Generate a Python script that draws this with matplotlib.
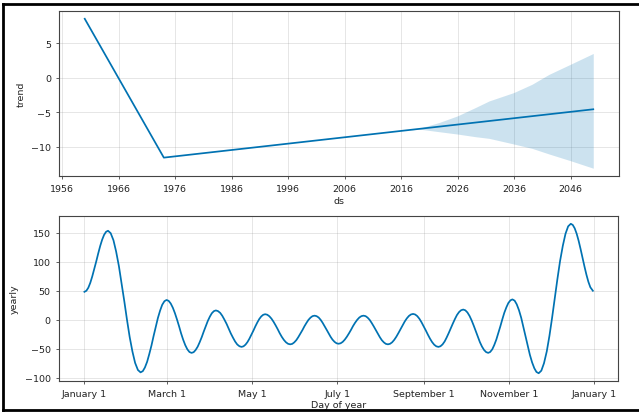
import pandas as pd
import matplotlib
matplotlib.use("Agg")
import matplotlib.pyplot as plt
from matplotlib.dates import MonthLocator, num2date
from matplotlib.ticker import FuncFormatter
from matplotlib.lines import Line2D

# Trend component (piecewise linear with one changepoint)
trend_dates = ["1960-01-01", "1974-01-01", "2050-01-01"]
trend_values = [8.5, -11.55, -4.57]

# Forecast uncertainty of the trend
band_dates = ["2017-06-01", "2019-03-01", "2022-10-01", "2026-01-01", "2029-03-01",
              "2031-08-01", "2035-12-01", "2039-03-01", "2042-03-01", "2045-12-01",
              "2050-01-01"]
band_upper = [-7.57, -7.33, -6.47, -5.51, -4.31, -3.36, -2.16, -0.96, 0.47, 1.91, 3.49]
band_lower = [-7.57, -7.43, -7.81, -8.15, -8.53, -8.77, -9.58, -10.21, -11.02, -11.98, -13.08]

year_ticks = [1956, 1966, 1976, 1986, 1996, 2006, 2016, 2026, 2036, 2046]

# Yearly seasonality: day offset from January 1 and component value
yearly_day = [
    0, 1.4, 2.8, 4.2, 5.6, 7.0, 8.5, 9.9, 11.3, 12.7, 14.1, 15.5, 16.9,
    18.8, 20.8, 22.7, 24.7, 26.6, 28.6, 30.5, 32.4, 34.4, 36.3, 38.3, 40.2,
    41.8, 43.3, 44.9, 46.4, 48.0, 49.5, 51.1, 52.6, 54.2, 55.7, 57.3, 58.8,
    60.3, 61.8, 63.3, 64.8, 66.3, 67.8, 69.2, 70.7, 72.2, 73.7, 75.2, 76.7,
    78.2, 79.6, 81.1, 82.5, 84.0, 85.4, 86.9, 88.3, 89.8, 91.2, 92.7, 94.1,
    95.6, 97.2, 98.7, 100.2, 101.8, 103.3, 104.8, 106.4, 107.9, 109.4, 111.0, 112.5,
    113.9, 115.3, 116.7, 118.1, 119.5, 121.0, 122.4, 123.8, 125.2, 126.6, 128.0, 129.4,
    130.9, 132.4, 133.9, 135.4, 136.9, 138.4, 139.8, 141.3, 142.8, 144.3, 145.8, 147.3,
    148.8, 150.2, 151.7, 153.1, 154.6, 156.1, 157.5, 159.0, 160.4, 161.9, 163.3, 164.8,
    166.2, 167.7, 169.1, 170.5, 171.9, 173.4, 174.8, 176.2, 177.6, 179.1, 180.5, 181.9,
    183.4, 184.9, 186.4, 187.9, 189.4, 190.9, 192.3, 193.8, 195.3, 196.8, 198.3, 199.8,
    201.3, 202.7, 204.2, 205.6, 207.1, 208.6, 210.0, 211.5, 212.9, 214.4, 215.8, 217.3,
    218.8, 220.3, 221.8, 223.3, 224.8, 226.3, 227.8, 229.3, 230.8, 232.3, 233.8, 235.3,
    236.8, 238.3, 239.8, 241.3, 242.8, 244.4, 245.9, 247.4, 248.9, 250.4, 251.9, 253.4,
    254.9, 256.4, 257.9, 259.3, 260.8, 262.3, 263.8, 265.3, 266.7, 268.2, 269.7, 271.2,
    272.7, 274.2, 275.7, 277.2, 278.7, 280.2, 281.6, 283.1, 284.6, 286.1, 287.6, 289.1,
    290.5, 292.0, 293.4, 294.9, 296.3, 297.8, 299.2, 300.6, 302.1, 303.5, 305.0, 306.4,
    308.0, 309.5, 311.1, 312.7, 314.2, 315.8, 317.4, 318.9, 320.5, 322.1, 323.6, 325.2,
    327.1, 329.0, 331.0, 332.9, 334.8, 336.7, 338.6, 340.5, 342.5, 344.4, 346.3, 348.2,
    349.6, 351.0, 352.4, 353.8, 355.2, 356.6, 358.0, 359.4, 360.8, 362.2, 364.0,
]
yearly_value = [
    48, 49.8, 55.0, 63.4, 74.3, 86.9, 100.5, 114.1, 126.8, 137.6, 146.0, 151.2, 153,
    148.9, 136.7, 117.4, 92.1, 62.8, 31.2, -0.3, -29.6, -54.9, -74.2, -86.4, -90.5,
    -88.4, -82.2, -72.3, -59.4, -44.4, -28.3, -12.1, 2.9, 15.8, 25.7, 31.9, 34,
    32.5, 27.9, 20.7, 11.3, 0.3, -11.5, -23.3, -34.3, -43.7, -50.9, -55.5, -57,
    -55.8, -52.1, -46.3, -38.8, -29.9, -20.5, -11.1, -2.3, 5.3, 11.1, 14.8, 16,
    14.9, 11.8, 6.8, 0.3, -7.2, -15.4, -23.5, -31.0, -37.5, -42.5, -45.6, -46.7,
    -45.7, -42.9, -38.5, -32.7, -25.9, -18.6, -11.3, -4.6, 1.3, 5.7, 8.5, 9.5,
    8.6, 6.0, 1.9, -3.5, -9.7, -16.4, -23.1, -29.4, -34.7, -38.8, -41.4, -42.3,
    -41.5, -39.0, -35.1, -30.0, -24.0, -17.7, -11.3, -5.3, -0.2, 3.7, 6.2, 7,
    6.2, 3.8, -0.1, -5.1, -10.9, -17.2, -23.4, -29.2, -34.2, -38.1, -40.5, -41.3,
    -40.5, -38.1, -34.2, -29.2, -23.4, -17.2, -10.9, -5.1, -0.1, 3.8, 6.2, 7,
    6.2, 3.7, -0.2, -5.3, -11.3, -17.7, -24.0, -30.0, -35.1, -39.0, -41.5, -42.3,
    -41.4, -38.8, -34.6, -29.2, -22.9, -16.2, -9.4, -3.1, 2.3, 6.5, 9.1, 10,
    9.0, 6.2, 1.7, -4.2, -11.0, -18.4, -25.7, -32.5, -38.4, -42.9, -45.7, -46.7,
    -45.6, -42.4, -37.3, -30.7, -22.9, -14.6, -6.3, 1.5, 8.1, 13.2, 16.4, 17.5,
    16.2, 12.5, 6.6, -1.1, -10.1, -19.8, -29.4, -38.4, -46.1, -52.0, -55.7, -57,
    -55.4, -50.8, -43.5, -34.0, -22.9, -11.0, 0.9, 12.0, 21.5, 28.8, 33.4, 35,
    32.8, 26.5, 16.4, 3.3, -12.1, -28.5, -44.9, -60.3, -73.4, -83.5, -89.8, -92,
    -87.6, -74.8, -54.4, -27.8, 3.2, 36.5, 69.8, 100.8, 127.4, 147.8, 160.6, 165,
    163.0, 157.2, 147.9, 135.8, 121.6, 106.5, 91.4, 77.3, 65.1, 55.8, 49.8,
]

LINE = "#0072B2"
plt.rcParams.update({
    "font.family": "DejaVu Sans",
    "font.size": 6.8,
    "axes.linewidth": 0.8,
    "axes.edgecolor": "#444444",
    "xtick.major.size": 2.5,
    "ytick.major.size": 2.5,
    "xtick.major.width": 0.6,
    "ytick.major.width": 0.6,
    "xtick.color": "#444444",
    "ytick.color": "#444444",
    "xtick.labelcolor": "#222222",
    "ytick.labelcolor": "#222222",
    "axes.labelcolor": "#222222",
})

fig = plt.figure(figsize=(6.39, 4.14), dpi=100)
ax1 = fig.add_axes([0.0928, 0.5732, 0.8754, 0.3971])
ax2 = fig.add_axes([0.0923, 0.0780, 0.8753, 0.3971])

# --- trend panel ---
t_dates = pd.to_datetime(trend_dates)
b_dates = pd.to_datetime(band_dates)
ax1.plot(t_dates, trend_values, ls="-", c=LINE, lw=1.25)
ax1.fill_between(b_dates, band_lower, band_upper, color=LINE, alpha=0.2, lw=0)
ax1.set_xticks(pd.to_datetime([f"{y}-01-01" for y in year_ticks]))
ax1.xaxis.set_major_formatter(FuncFormatter(lambda x, pos=None: f"{num2date(x):%Y}"))
ax1.set_yticks([-10, -5, 0, 5])
ax1.grid(True, which="major", c="gray", ls="-", lw=0.7, alpha=0.2)
ax1.set_axisbelow(True)
ax1.set_xlabel("ds", labelpad=2)
ax1.set_ylabel("trend", labelpad=4)

# --- yearly seasonality panel ---
base = pd.Timestamp("2017-01-01")
y_dates = base + pd.to_timedelta(yearly_day, unit="D")
ax2.plot(y_dates, yearly_value, ls="-", c=LINE, lw=1.25)
ax2.xaxis.set_major_locator(MonthLocator(bymonth=range(1, 13, 2), bymonthday=1))
ax2.xaxis.set_major_formatter(
    FuncFormatter(lambda x, pos=None: "{dt:%B} {dt.day}".format(dt=num2date(x))))
ax2.set_yticks([-100, -50, 0, 50, 100, 150])
ax2.grid(True, which="major", c="gray", ls="-", lw=0.7, alpha=0.2)
ax2.set_axisbelow(True)
ax2.set_xlabel("Day of year", labelpad=1.5)
ax2.set_ylabel("yearly", labelpad=4)

# Black frame drawn around the figure (top, left, bottom edges)
W, H = 639.0, 414.0
def px(x, y):
    return x / W, 1 - y / H
for (xa, ya), (xb, yb) in [((3.4, 5.4), (639, 5.4)),
                           ((3.4, 5.4), (3.4, 410.8)),
                           ((3.4, 410.8), (639, 410.8))]:
    (fx0, fy0), (fx1, fy1) = px(xa, ya), px(xb, yb)
    fig.add_artist(Line2D([fx0, fx1], [fy0, fy1], transform=fig.transFigure,
                          color="black", lw=2.0, solid_capstyle="projecting"))

fig.savefig("out.png", dpi=100)
